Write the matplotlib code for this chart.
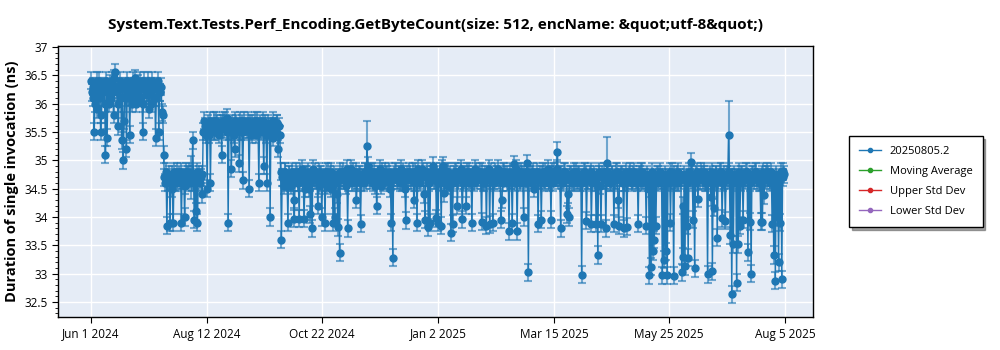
import pandas as pd
import matplotlib
matplotlib.use("Agg")
import matplotlib.pyplot as plt
import matplotlib.dates as mdates
from matplotlib.lines import Line2D
from matplotlib.ticker import MultipleLocator

plt.rcParams['font.family'] = ['Open Sans', 'DejaVu Sans']

# 数据: 每天两次运行 (00:00 和 12:00), 从 2024-06-01 开始
start_date = '2024-06-01'

# 第一次运行 (00:00)
high_a = [36.4, 36.1, 35.5, 36.3, 35.9, 36.4, 35.5, 36.2, 36.3, 35.1,
          35.4, 36.0, 36.3, 36.4, 35.8, 36.55, 36.2, 35.6, 36.4, 35.35,
          35.0, 36.3, 35.2, 36.1, 35.45, 36.3, 36.4, 36.2, 36.0, 36.35,
          36.3, 36.1, 35.5, 36.4, 36.3, 36.2, 35.9, 36.3, 36.4, 36.1,
          35.4, 36.3, 35.5, 36.2, 35.85]

low1_a = [35.1, 34.6, 33.85, 34.7, 33.9, 34.75, 33.9, 34.6, 34.8, 34.7,
          34.65, 33.9, 34.7, 34.0, 34.8, 34.75, 34.6, 34.7, 35.35, 33.95,
          34.1, 33.9, 34.75, 34.7, 34.4]

mid_a = [35.7, 35.5, 34.5, 35.45, 34.6, 35.6, 35.7, 35.5, 35.65, 35.6,
         35.55, 35.1, 35.65, 35.7, 35.5, 33.9, 35.6, 34.85, 35.55, 35.2,
         35.65, 35.6, 34.95, 35.5, 34.65, 35.7, 35.6, 35.55, 34.5, 35.5,
         35.65, 35.6, 35.45, 35.7, 34.6, 35.55, 35.6, 34.9, 35.65, 34.6,
         35.5, 34.0, 35.6, 35.4, 35.55, 35.65, 35.2, 35.45]

low2_a = [33.6, 34.7, 34.8, 34.6, 33.9, 34.75, 34.55, 34.7, 33.97, 34.8,
          34.6, 33.97, 34.7, 34.85, 33.97, 34.6, 34.75, 34.5, 34.05, 33.8,
          34.7, 34.8, 34.65, 34.55, 34.75, 34.0, 34.7, 33.9, 34.6, 34.8,
          34.75, 34.5, 33.9, 34.0, 34.7, 33.82, 33.37, 34.65, 34.8, 34.7,
          34.55, 33.8, 34.75, 34.85, 34.6, 34.7, 34.8, 34.65, 34.75, 33.88,
          34.7, 34.6, 34.8, 35.25, 34.75, 34.65, 34.8, 34.7, 34.55, 34.2,
          34.75, 34.85, 34.7, 34.6, 34.8, 34.75, 34.65, 34.5, 33.9, 33.28,
          34.7, 34.8, 34.65, 34.75, 34.85, 34.6, 34.7, 33.94, 34.75, 34.8,
          34.65, 34.7, 34.3, 34.8, 33.9, 34.75, 34.6, 34.85, 34.7, 33.95,
          34.8, 33.82, 33.9, 34.75, 34.9, 34.65, 33.98, 33.9, 34.8, 33.85,
          34.9, 34.42, 34.7, 34.8, 34.6, 33.72, 33.88, 34.75, 34.8, 34.2,
          34.7, 34.85, 33.96, 34.65, 34.75, 34.8, 34.6, 34.7, 33.9, 34.75,
          34.85, 34.65, 34.7, 34.8, 33.92, 34.6, 34.75, 33.85, 34.7, 33.87,
          34.8, 33.9, 34.65, 34.75, 34.85, 34.7, 33.95, 34.6, 34.8, 34.7,
          34.75, 33.75, 34.65, 33.9, 34.93, 34.7, 33.75, 34.8, 34.6, 34.75,
          34.0, 34.7, 34.95, 33.03, 34.75, 34.6, 34.8, 34.7, 34.65, 33.88,
          34.75, 33.95, 34.8, 34.65, 34.7, 34.85, 34.6, 33.95, 34.75, 34.8,
          34.7, 35.15, 34.75, 33.8, 34.65, 34.8, 34.7, 34.05, 34.0, 34.75,
          34.6, 34.8, 34.7, 34.65, 34.75, 34.6, 32.98, 34.7, 34.8, 33.93,
          34.65, 34.75, 33.88, 34.7, 34.6, 33.88, 33.33, 34.75, 33.88, 34.7,
          34.8, 33.8, 34.95, 34.7, 34.6, 34.75, 33.88, 34.65, 34.8, 33.85,
          34.7, 34.75, 33.8, 34.6, 33.83, 34.7, 34.8, 34.65, 34.75, 34.7,
          34.6, 33.88, 34.75, 34.8, 34.65, 34.7, 33.85, 34.6, 32.97, 33.12,
          33.4, 33.6, 33.85, 34.75, 34.7, 34.65, 32.97, 33.25, 33.4, 32.97,
          34.7, 33.9, 34.8, 32.96, 34.65, 34.75, 34.6, 34.7, 33.03, 33.3,
          33.13, 33.85, 33.28, 34.7, 34.97, 33.95, 33.1, 34.75, 34.32, 34.7,
          34.8, 34.65, 34.75, 34.6, 32.99, 34.7, 34.35, 33.04, 34.16, 34.75,
          33.63, 34.7, 34.8, 33.98, 34.65, 33.93, 34.75, 35.45, 33.68, 32.64,
          33.52, 34.7, 32.84, 33.52, 33.85, 34.75, 33.95, 34.7, 34.8, 33.38,
          33.92, 33.0, 34.75, 34.65, 34.8, 34.7, 34.6, 33.92, 33.92, 34.38,
          34.75, 34.8, 34.7, 34.65, 33.88, 33.33, 32.88, 34.0, 33.2, 33.9,
          32.9, 34.81]

# 第二次运行 (12:00)
high_b = [36.2, 36.3, 36.0, 36.4, 36.2, 36.1, 35.8, 36.3, 36.0, 36.4,
          36.2, 36.35, 36.1, 36.2, 36.45, 36.3, 36.0, 36.25, 36.1, 36.3,
          35.7, 36.2, 36.4, 36.3, 36.1, 36.0, 36.3, 36.45, 36.2, 36.1,
          36.4, 36.25, 36.0, 36.3, 36.15, 36.4, 36.2, 36.0, 36.3, 36.25,
          36.1, 36.4, 36.2, 36.3, 35.8]

low1_b = [34.7, 34.8, 34.6, 34.75, 34.65, 34.5, 34.8, 34.7, 34.6, 34.75,
          34.8, 34.65, 34.7, 34.55, 34.75, 34.8, 34.7, 34.6, 34.75, 34.65,
          34.8, 34.7, 34.6, 34.75, 35.5]

mid_b = [35.6, 35.45, 35.65, 35.7, 35.55, 35.6, 35.5, 35.7, 35.6, 35.45,
         35.65, 35.7, 35.55, 35.6, 35.75, 35.5, 35.6, 35.65, 35.45, 35.7,
         35.55, 35.6, 35.7, 35.65, 35.5, 35.6, 35.55, 35.7, 35.65, 35.45,
         35.6, 35.7, 35.55, 35.6, 35.65, 35.5, 35.7, 35.6, 35.45, 35.65,
         35.6, 35.55, 35.7, 35.6, 35.5, 35.65, 35.6, 34.8]

low2_b = [34.7, 34.55, 34.8, 34.65, 34.75, 34.6, 34.8, 34.3, 34.7, 34.75,
          34.6, 34.8, 34.7, 34.65, 34.5, 34.75, 34.8, 34.6, 34.7, 34.85,
          34.65, 34.7, 34.2, 34.8, 34.75, 34.6, 34.7, 34.8, 34.55, 34.7,
          34.8, 34.65, 34.75, 34.6, 34.4, 34.7, 34.8, 34.75, 34.65, 34.7,
          34.85, 34.6, 34.7, 34.75, 34.8, 34.65, 34.3, 34.7, 34.75, 34.6,
          34.7, 34.8, 34.65, 34.9, 34.7, 34.75, 34.6, 34.8, 34.7, 34.65,
          34.75, 34.55, 34.8, 34.7, 34.65, 34.75, 34.8, 34.6, 34.7, 34.75,
          34.8, 34.65, 34.7, 34.6, 34.75, 34.8, 34.5, 34.7, 34.65, 34.75,
          34.7, 34.8, 34.6, 34.75, 34.85, 34.65, 34.7, 34.8, 34.4, 34.7,
          34.75, 34.6, 34.8, 34.7, 34.65, 34.8, 34.75, 34.6, 34.7, 34.85,
          34.65, 34.7, 34.8, 34.55, 34.75, 34.7, 34.6, 34.8, 34.7, 34.65,
          34.75, 34.8, 34.6, 34.7, 34.2, 34.75, 34.8, 34.65, 34.7, 34.6,
          34.8, 34.7, 34.75, 34.65, 34.8, 34.6, 34.7, 34.75, 34.85, 34.65,
          34.7, 34.6, 34.8, 34.75, 34.65, 34.7, 34.3, 34.8, 34.75, 34.6,
          34.7, 34.8, 34.65, 34.75, 34.6, 34.85, 34.7, 34.65, 34.8, 34.7,
          34.75, 34.6, 34.8, 34.7, 34.65, 34.75, 34.5, 34.7, 34.8, 34.65,
          34.7, 34.75, 34.6, 34.8, 34.7, 34.65, 34.75, 34.8, 34.6, 34.7,
          34.85, 34.65, 34.7, 34.75, 34.6, 34.8, 34.7, 34.4, 34.65, 34.75,
          34.7, 34.6, 34.8, 34.65, 34.75, 34.7, 34.6, 34.8, 34.75, 34.65,
          34.7, 34.8, 34.6, 34.75, 34.65, 34.7, 34.8, 34.55, 34.75, 34.7,
          34.65, 34.8, 34.7, 34.6, 34.75, 34.7, 34.65, 34.8, 34.3, 34.7,
          34.75, 34.6, 34.7, 34.8, 34.65, 34.75, 34.7, 34.6, 34.8, 34.65,
          34.7, 34.75, 34.6, 34.8, 34.7, 34.65, 34.75, 34.5, 34.7, 34.8,
          34.65, 34.7, 34.75, 34.6, 34.8, 34.7, 34.65, 34.75, 34.7, 34.6,
          34.8, 34.65, 34.7, 34.75, 34.6, 34.8, 34.7, 34.65, 34.2, 34.75,
          34.7, 34.6, 34.8, 34.65, 34.75, 34.7, 34.6, 34.8, 34.7, 34.65,
          34.75, 34.8, 34.6, 34.7, 34.65, 34.75, 34.8, 34.7, 34.6, 34.75,
          34.65, 34.7, 34.8, 34.6, 34.75, 34.7, 34.65, 34.8, 34.7, 34.6,
          34.75, 34.7, 34.65, 34.8, 34.6, 34.75, 34.7, 34.65, 34.8, 34.7,
          34.6, 34.75, 34.7, 34.8, 34.65, 34.7, 34.6, 34.75, 34.8, 34.65,
          34.7, 34.75, 34.6, 34.8, 34.7, 34.65, 34.75, 34.6, 34.7, 34.8,
          34.7, 34.75]

run_a = high_a + low1_a + mid_a + low2_a
run_b = high_b + low1_b + mid_b + low2_b

# 误差 (默认值 + 几个较大的)
default_err = 0.15
big_err_a = {62: 0.38, 171: 0.45, 289: 0.18, 320: 0.46, 395: 0.6}

tick_dates = pd.to_datetime(['2024-06-01', '2024-08-12', '2024-10-22', '2025-01-02',
                             '2025-03-15', '2025-05-25', '2025-08-05'])

df_a = pd.DataFrame({'Date': pd.date_range(start_date, periods=len(run_a), freq='D'),
                     'Duration': run_a,
                     'Err': [big_err_a.get(i, default_err) for i in range(len(run_a))]})
df_b = pd.DataFrame({'Date': pd.date_range(start_date + ' 12:00', periods=len(run_b), freq='D'),
                     'Duration': run_b,
                     'Err': [default_err] * len(run_b)})
df = pd.concat([df_a, df_b]).sort_values('Date')

blue = '#1f77b4'

fig = plt.figure(figsize=(10, 3.5), dpi=100)
ax = fig.add_axes([0.058, 0.094, 0.755, 0.775])
ax.set_facecolor('#E5ECF6')

ax.errorbar(df['Date'], df['Duration'], yerr=df['Err'], fmt='none', ecolor=blue, alpha=0.6,
            elinewidth=1.5, capsize=3, capthick=1.5, zorder=2)
ax.plot(df['Date'], df['Duration'], color=blue, linewidth=1, marker='o', markersize=5, zorder=3)

ax.set_xlim(pd.Timestamp('2024-05-11 14:00'), pd.Timestamp('2025-08-22 08:00'))
ax.set_ylim(32.235, 37.018)
ax.set_xticks(tick_dates)
ax.xaxis.set_major_formatter(mdates.DateFormatter('%b %-d %Y'))
ax.yaxis.set_major_locator(MultipleLocator(0.5))
ax.yaxis.set_minor_locator(MultipleLocator(0.1))
ax.yaxis.set_major_formatter(lambda v, p: f'{v:g}')
ax.tick_params(axis='both', labelsize=8.5, direction='out', length=4)
ax.tick_params(axis='y', which='minor', length=2)

ax.grid(True, color='white', linewidth=1)
ax.set_axisbelow(True)
for s in ax.spines.values():
    s.set_color('black')
    s.set_linewidth(1)

ax.set_title('System.Text.Tests.Perf_Encoding.GetByteCount(size: 512, encName: &quot;utf-8&quot;)',
             fontsize=11, fontweight='bold', pad=12)
ax.set_ylabel('Duration of single invocation (ns)', fontsize=10.5, fontweight='bold')

# 图例
legend_names = ['20250805.2', 'Moving Average', 'Upper Std Dev', 'Lower Std Dev']
legend_colors = [blue, '#2ca02c', '#d62728', '#9467bd']
handles = [Line2D([], [], color=c, marker='o', markersize=3, linewidth=1) for c in legend_colors]
leg = ax.legend(handles, legend_names, loc='center left', bbox_to_anchor=(1.04, 0.5), fontsize=8,
                fancybox=False, shadow=True, edgecolor='black', framealpha=1,
                borderpad=0.9, labelspacing=0.8, handlelength=2)
leg.get_frame().set_linewidth(1)

plt.savefig('out.png', dpi=100)
